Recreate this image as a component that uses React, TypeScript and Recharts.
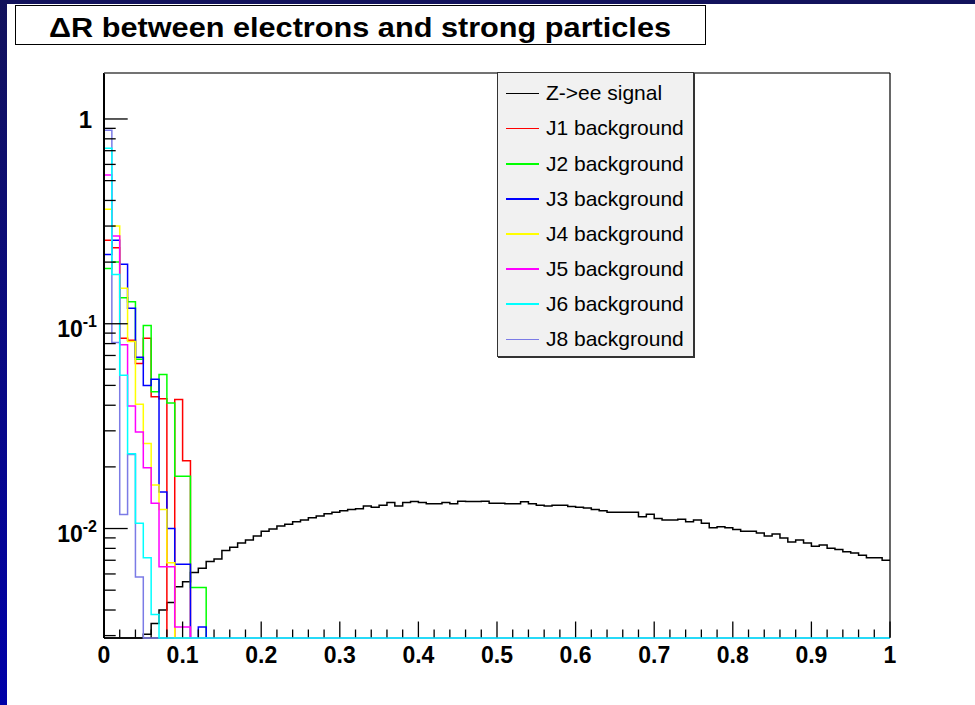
import React from 'react';
import { ComposedChart, Line, XAxis, YAxis } from 'recharts';

// ---- data: 100 bins of width 0.01 on [0, 1] ----
const BIN_WIDTH = 0.01;
const N_BINS = 100;

// Z->ee signal, bin contents (bins 0..99)
const signal = [
  0, 0, 0, 0, 0, 0.00305, 0.00344, 0.0040, 0.00435, 0.0052,
  0.0055, 0.0061, 0.0064, 0.0069, 0.0071, 0.0078, 0.0081, 0.0085, 0.0088, 0.0092,
  0.0097, 0.00995, 0.0103, 0.0105, 0.0108, 0.0110, 0.0113, 0.0115, 0.0118, 0.0120,
  0.0122, 0.0124, 0.0125, 0.0129, 0.0127, 0.0130, 0.0134, 0.0129, 0.0134, 0.01355,
  0.0134, 0.0132, 0.0132, 0.0134, 0.0132, 0.0136, 0.01355, 0.01355, 0.0136, 0.0133,
  0.0133, 0.0132, 0.0132, 0.0135, 0.0132, 0.0130, 0.0129, 0.0130, 0.0130, 0.0128,
  0.0127, 0.0126, 0.0124, 0.0122, 0.0120, 0.0120, 0.0120, 0.0120, 0.0114, 0.01174,
  0.0112, 0.0110, 0.0110, 0.0111, 0.0108, 0.0110, 0.0106, 0.0101, 0.0102, 0.0101,
  0.0099, 0.0097, 0.0097, 0.0095, 0.0092, 0.0094, 0.0090, 0.0086, 0.0088, 0.0085,
  0.0082, 0.0083, 0.0080, 0.0079, 0.0077, 0.0076, 0.0074, 0.0072, 0.0072, 0.0070,
];

// backgrounds: listed bins from 0; every later bin is empty (0)
const j1 = [0.256, 0.235, 0.085, 0.083, 0.064, 0.085, 0.044, 0.043, 0, 0.0427, 0.0214, 0, 0, 0];
const j2 = [0.186, 0.20, 0.134, 0.128, 0.067, 0.098, 0.0465, 0.0565, 0.041, 0.018, 0.018, 0.00515, 0.00515, 0];
const j3 = [0.218, 0.256, 0.195, 0.119, 0.0686, 0.050, 0.0536, 0.0151, 0.0100, 0.0067, 0.0067, 0, 0.0033, 0];
const j4 = [0.362, 0.30, 0.149, 0.082, 0.0405, 0.026, 0.0163, 0.0124, 0.0068, 0, 0, 0, 0, 0];
const j5 = [0.533, 0.268, 0.079, 0.0397, 0.0296, 0.0198, 0.0133, 0.0065, 0.0065, 0.0033, 0.0033, 0, 0, 0];
const j6 = [0.72, 0.174, 0.056, 0.0232, 0.0106, 0.0072, 0.0038, 0, 0, 0, 0, 0, 0, 0];
const j8 = [0.88, 0.081, 0.0117, 0.023, 0.0058, 0, 0, 0, 0, 0, 0, 0, 0, 0];

const seriesNames = ['Z->ee signal', 'J1 background', 'J2 background', 'J3 background', 'J4 background', 'J5 background', 'J6 background', 'J8 background'];
const seriesKeys = ['sig', 'j1', 'j2', 'j3', 'j4', 'j5', 'j6', 'j8'];
const seriesColors = ['#000000', '#ff0000', '#00ff00', '#0000ff', '#ffff00', '#ff00ff', '#00ffff', '#7b7be6'];
const seriesValues = [signal, j1, j2, j3, j4, j5, j6, j8];
// drawing order (last on top)
const drawOrder = [0, 1, 2, 3, 4, 5, 7, 6];

const xMajorLabels = ['0', '0.1', '0.2', '0.3', '0.4', '0.5', '0.6', '0.7', '0.8', '0.9', '1'];
const yMajorTicks = [0.01, 0.1, 1];

const Y_MIN = 0.00292;
const Y_MAX = 1.677;

// ---- table built from the arrays ----
const data = Array.from({ length: N_BINS + 1 }, (_, i) => {
  const row: Record<string, number> = { x: Math.round(i * BIN_WIDTH * 100) / 100 };
  seriesKeys.forEach((k, s) => {
    const vals = seriesValues[s];
    const idx = Math.min(i, N_BINS - 1);
    row[k] = idx < vals.length ? vals[idx] : 0;
  });
  return row;
});

const xTicks: number[] = Array.from({ length: 51 }, (_, i) => Math.round(i * 2) / 100);
const yTicks: number[] = [];
[0.001, 0.01, 0.1, 1].forEach((d) => {
  for (let m = 1; m <= 9; m++) {
    const v = +(m * d).toPrecision(3);
    if (v >= Y_MIN && v <= Y_MAX) yTicks.push(v);
  }
});

// ---- layout ----
const W = 975;
const H = 705;
const PLOT_LEFT = 104;
const PLOT_RIGHT = 890;
const PLOT_TOP = 73;
const PLOT_BOTTOM = 638;
const FONT = '"Liberation Sans", Arial, Helvetica, sans-serif';

const XTick = (props: any) => {
  const { x, payload } = props;
  const v = payload.value as number;
  const isMajor = Math.abs(v * 10 - Math.round(v * 10)) < 1e-6;
  const len = isMajor ? 16.5 : 8.5;
  const label = isMajor ? xMajorLabels[Math.round(v * 10)] : null;
  return (
    <g>
      <line x1={x} x2={x} y1={PLOT_BOTTOM - 0.8} y2={PLOT_BOTTOM - len} stroke="#000" strokeWidth={1.3} />
      {label !== null && (
        <text x={x} y={663} textAnchor="middle" fontFamily={FONT} fontWeight="bold" fontSize={23} fill="#000">
          {label}
        </text>
      )}
    </g>
  );
};

const YTick = (props: any) => {
  const { y, payload } = props;
  const v = payload.value as number;
  const exp = Math.round(Math.log10(v));
  const isMajor = yMajorTicks.some((t) => Math.abs(t - v) < 1e-9);
  const len = isMajor ? 23.7 : 11.7;
  return (
    <g>
      <line x1={PLOT_LEFT} x2={PLOT_LEFT + len} y1={y} y2={y} stroke="#000" strokeWidth={1.3} />
      {isMajor && exp === 0 && (
        <text x={92} y={y + 9.5} textAnchor="end" fontFamily={FONT} fontWeight="bold" fontSize={24} fill="#000">
          1
        </text>
      )}
      {isMajor && exp !== 0 && (
        <text x={97} y={y + 13.5} textAnchor="end" fontFamily={FONT} fontWeight="bold" fontSize={23} fill="#000">
          10
          <tspan dy={-10} fontSize={16}>{String(exp)}</tspan>
        </text>
      )}
    </g>
  );
};

export default function App() {
  return (
    <div style={{ position: 'absolute', left: 0, top: 0, width: W, height: H, background: '#ffffff', overflow: 'hidden', fontFamily: FONT }}>
      {/* canvas border strips */}
      <div style={{ position: 'absolute', left: 0, top: 0, width: W, height: 4, background: '#12125c' }} />
      <div style={{ position: 'absolute', left: 0, top: 0, width: 7, height: H, background: 'linear-gradient(#12125c, #0000a8)' }} />

      {/* title box */}
      <div style={{ position: 'absolute', left: 15, top: 5, width: 689, height: 38, border: '1px solid #000', background: '#fff' }}>
        <svg width={689} height={38} style={{ display: 'block' }}>
          <text x={344} y={30.5} textAnchor="middle" fontFamily={FONT} fontWeight="bold" fontSize={27} fill="#000" textLength={622} lengthAdjust="spacingAndGlyphs">
            ΔR between electrons and strong particles
          </text>
        </svg>
      </div>

      {/* bottom frame line, beneath the histograms */}
      <svg width={W} height={H} style={{ position: 'absolute', left: 0, top: 0 }}>
        <line x1={PLOT_LEFT} x2={PLOT_RIGHT} y1={PLOT_BOTTOM} y2={PLOT_BOTTOM} stroke="#000" strokeWidth={1.5} />
      </svg>

      <div style={{ position: 'absolute', left: 0, top: 0 }}>
        <ComposedChart width={W} height={H} data={data} margin={{ top: PLOT_TOP, right: W - PLOT_RIGHT, bottom: 0, left: 0 }}>
          <XAxis
            type="number"
            dataKey="x"
            domain={[0, 1]}
            ticks={xTicks}
            interval={0}
            tick={(p: any) => <XTick {...p} />}
            tickLine={false}
            axisLine={false}
            height={H - PLOT_BOTTOM}
          />
          <YAxis
            type="number"
            scale="log"
            domain={[Y_MIN, Y_MAX]}
            ticks={yTicks}
            interval={0}
            tick={(p: any) => <YTick {...p} />}
            tickLine={false}
            axisLine={{ stroke: '#000', strokeWidth: 2 }}
            width={PLOT_LEFT}
          />
          {drawOrder.map((s) => (
            <Line
              key={seriesKeys[s]}
              name={seriesNames[s]}
              dataKey={(d: any) => Math.max(d[seriesKeys[s]], Y_MIN)}
              type="stepAfter"
              stroke={seriesColors[s]}
              strokeWidth={1.5}
              dot={false}
              activeDot={false}
              isAnimationActive={false}
            />
          ))}
        </ComposedChart>
      </div>

      {/* frame top / right */}
      <svg width={W} height={H} style={{ position: 'absolute', left: 0, top: 0, pointerEvents: 'none' }}>
        <line x1={PLOT_LEFT} x2={PLOT_RIGHT} y1={PLOT_TOP} y2={PLOT_TOP} stroke="#444" strokeWidth={1.5} />
        <line x1={PLOT_RIGHT} x2={PLOT_RIGHT} y1={PLOT_TOP} y2={PLOT_BOTTOM} stroke="#000" strokeWidth={1.2} />
      </svg>

      {/* legend */}
      <div style={{ position: 'absolute', left: 497, top: 72, width: 195, height: 283, background: '#f1f1f1', border: '1px solid #333', boxShadow: '1px 1px 0 #333' }}>
        {seriesNames.map((n, i) => (
          <div key={n} style={{ position: 'absolute', left: 0, top: 20.3 + 35.1 * i - 14, height: 28, width: 195 }}>
            <div style={{ position: 'absolute', left: 8, top: 13.5, width: 33, height: 1.5, background: seriesColors[i] }} />
            <div style={{ position: 'absolute', left: 48, top: 1, fontSize: 21, lineHeight: '26px', color: '#000', whiteSpace: 'nowrap' }}>{n}</div>
          </div>
        ))}
      </div>
    </div>
  );
}
